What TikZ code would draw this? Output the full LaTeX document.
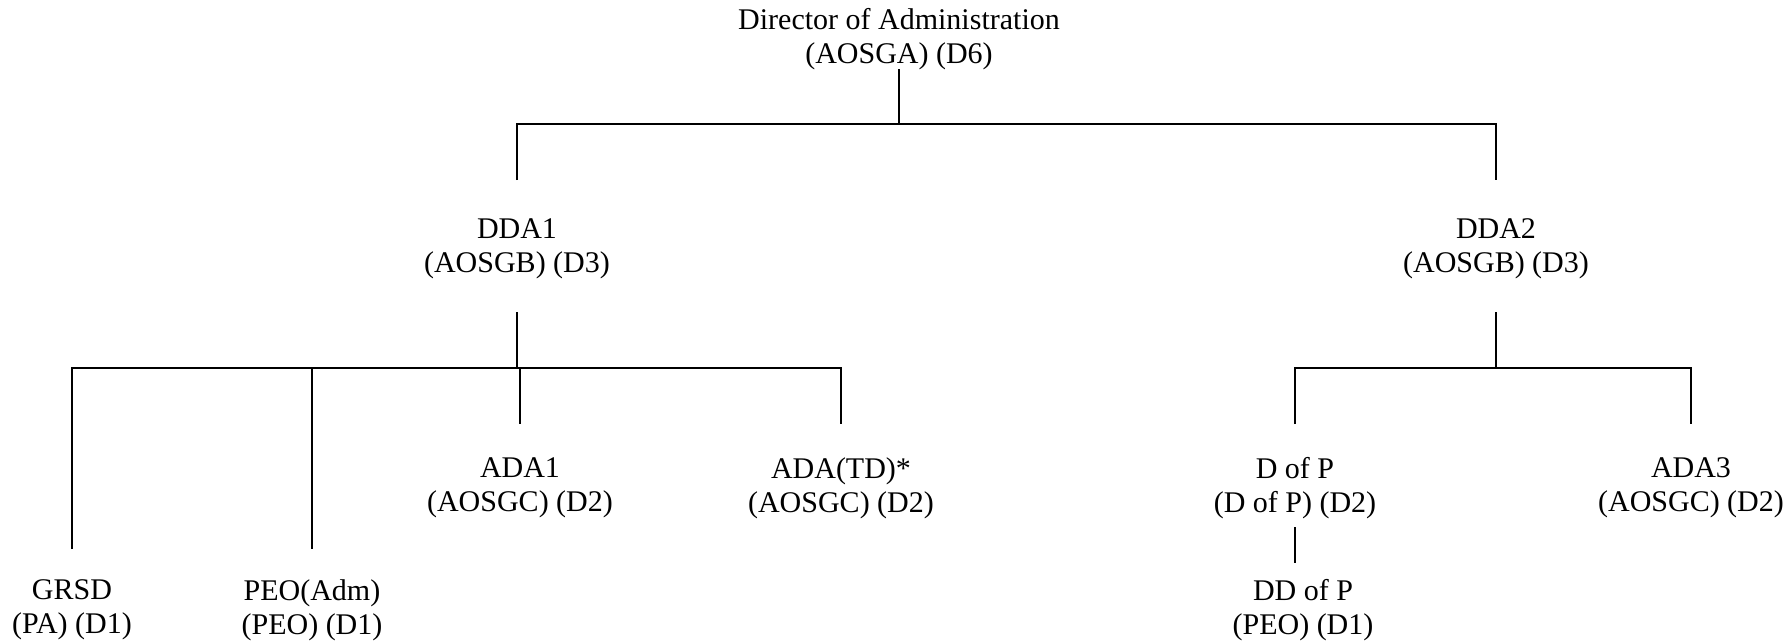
\documentclass[tikz,border=0pt]{standalone}
\usepackage{fontspec}
\setmainfont{Liberation Serif}
\begin{document}
\begin{tikzpicture}[x=0.4pt,y=0.4pt,line width=0.8pt,
    post/.style={align=center,inner sep=0pt,font=\fontsize{12}{13.6}\selectfont}]
                \useasboundingbox (0,0) rectangle (1789,642);
                \node[post] (dir) at (899,603) {Director of Administration\\(AOSGA) (D6)};
                \node[post] (dda1) at (517,393) {DDA1\\(AOSGB) (D3)};
                \node[post] (dda2) at (1496,393) {DDA2\\(AOSGB) (D3)};
                \node[post] (ada1) at (520,154) {ADA1\\(AOSGC) (D2)};
                \node[post] (adatd) at (841,154) {ADA(TD)*\\(AOSGC) (D2)};
                \node[post] (grsd) at (72,32) {GRSD\\(PA) (D1)};
                \node[post] (peo) at (312,32) {PEO(Adm)\\(PEO) (D1)};
                \node[post] (dofp) at (1295,154) {D of P\\(D of P) (D2)};
                \node[post] (ddofp) at (1303,32) {DD of P\\(PEO) (D1)};
                \node[post] (ada3) at (1691,154) {ADA3\\(AOSGC) (D2)};
                \coordinate (y0) at (0,573);
                \coordinate (y1) at (0,518);
                \coordinate (y2) at (0,462);
                \coordinate (y3) at (0,330);
                \coordinate (y4) at (0,274);
                \coordinate (y5) at (0,218);
                \coordinate (y6) at (0,93);
                \coordinate (y7) at (0,115);
                \coordinate (y8) at (0,79);
                \draw (dir |- y0) -- (dir |- y1);
                \draw (dda1 |- y2) -- (dda1 |- y1) -- (dda2 |- y1) -- (dda2 |- y2);
                \draw (dda1 |- y3) -- (dda1 |- y4);
                \draw (grsd |- y6) -- (grsd |- y4) -- (adatd |- y4) -- (adatd |- y5);
                \draw (peo |- y4) -- (peo |- y6);
                \draw (ada1 |- y4) -- (ada1 |- y5);
                \draw (dda2 |- y3) -- (dda2 |- y4);
                \draw (dofp |- y5) -- (dofp |- y4) -- (ada3 |- y4) -- (ada3 |- y5);
                \draw (dofp |- y7) -- (dofp |- y8);
\end{tikzpicture}
\end{document}
